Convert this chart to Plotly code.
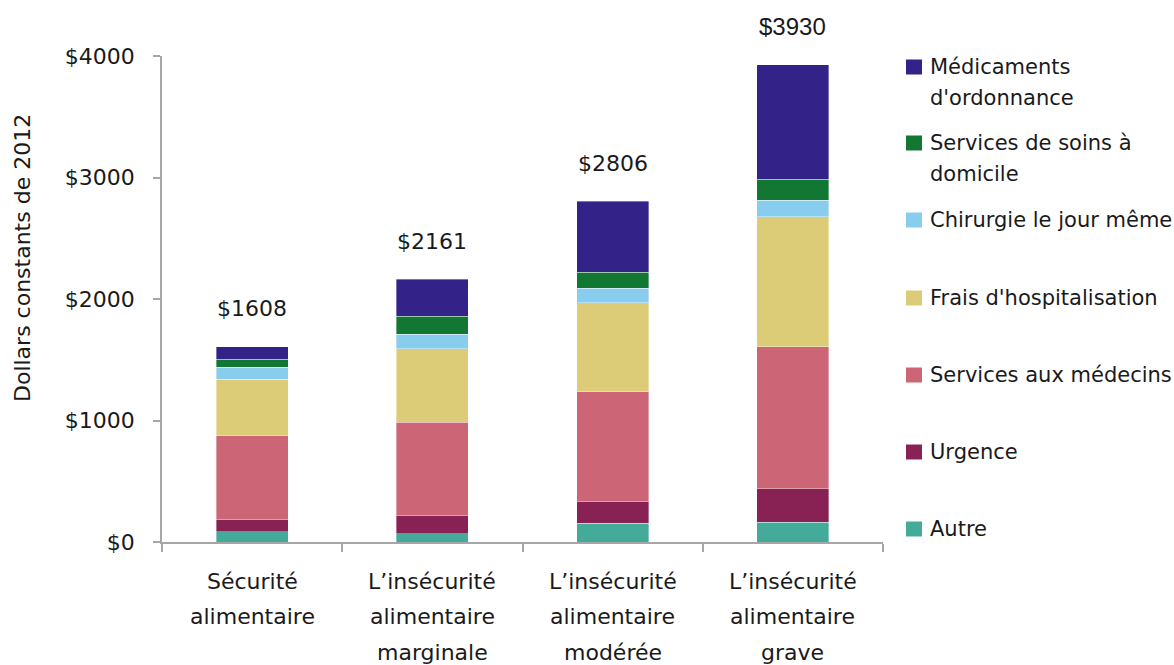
import plotly.graph_objects as go

# Food-security categories (x axis)
categories = [
    "Sécurité alimentaire",
    "L’insécurité alimentaire marginale",
    "L’insécurité alimentaire modérée",
    "L’insécurité alimentaire grave",
]

# Cost components, stacked bottom to top (constant 2012 dollars)
autre = [85, 66, 154, 162]
urgence = [104, 151, 178, 277]
medecins = [686, 769, 905, 1169]
hospitalisation = [464, 606, 733, 1067]
chirurgie = [101, 119, 119, 137]
soins_domicile = [66, 148, 132, 175]
medicaments = [102, 302, 585, 943]

series_names = [
    "Autre",
    "Urgence",
    "Services aux médecins",
    "Frais d'hospitalisation",
    "Chirurgie le jour même",
    "Services de soins à domicile",
    "Médicaments d'ordonnance",
]
series_values = [autre, urgence, medecins, hospitalisation, chirurgie,
                 soins_domicile, medicaments]
series_colors = ["#44AA99", "#882255", "#CC6677", "#DDCC77", "#88CCEE",
                 "#117733", "#332288"]

# Legend wording, one list of lines per series (same order as above)
legend_lines = [
    ["Autre"],
    ["Urgence"],
    ["Services aux médecins"],
    ["Frais d'hospitalisation"],
    ["Chirurgie le jour même"],
    ["Services de soins à", "domicile"],
    ["Médicaments", "d'ordonnance"],
]

y_tickvals = [0, 1000, 2000, 3000, 4000]
y_ticktext = ["$0", "$1000", "$2000", "$3000", "$4000"]

FONT = "DejaVu Sans"
TEXT = "#1a1a1a"
AXIS = "#a6a6a6"

W, H = 1174, 665
ML, MR, MT, MB = 162, 291, 56, 123
PW, PH = W - ML - MR, H - MT - MB

fig = go.Figure()
for name, vals, col in zip(series_names, series_values, series_colors):
    fig.add_trace(go.Bar(
        x=categories, y=vals, name=name,
        marker=dict(color=col, line=dict(color="rgba(255,255,255,0.45)", width=0.8)),
        showlegend=False, hoverinfo="name+y",
    ))

totals = [sum(v[i] for v in series_values) for i in range(len(categories))]

annotations = []
# Totals above bars (the last one is set in a different face)
for i, (cat, tot) in enumerate(zip(categories, totals)):
    last = i == len(categories) - 1
    annotations.append(dict(
        x=cat, y=tot, xref="x", yref="y", text=f"${tot}", showarrow=False,
        yanchor="middle", yshift=38,
        font=dict(size=24 if last else 22, color=TEXT,
                  family="Liberation Sans" if last else FONT),
    ))

# Category labels, one word per line
for cat in categories:
    for j, word in enumerate(cat.split(" ")):
        annotations.append(dict(
            x=cat, y=0, xref="x", yref="paper", text=word, showarrow=False,
            yanchor="middle", yshift=-39 - 35.5 * j,
            font=dict(size=22, color=TEXT, family=FONT),
        ))

# Y axis title
annotations.append(dict(
    x=0, y=(PH - (258 - MT)) / PH, xref="paper", yref="paper",
    text="Dollars constants de 2012", showarrow=False, textangle=-90,
    xanchor="center", yanchor="middle", xshift=-140,
    font=dict(size=22, color=TEXT, family=FONT),
))

# Legend (top entry first), drawn as swatches and labels
shapes = []
legend_top_px = [67, 143, 220, 298, 375, 452, 529]
order = list(range(len(series_names)))[::-1]
for k, idx in enumerate(order):
    cy = legend_top_px[k]
    y_paper = (H - MB - cy) / PH
    x0 = (906 - ML) / PW
    x1 = (922 - ML) / PW
    half = 7.5 / PH
    shapes.append(dict(
        type="rect", xref="paper", yref="paper",
        x0=x0, x1=x1, y0=y_paper - half, y1=y_paper + half,
        fillcolor=series_colors[idx], line=dict(width=0),
    ))
    for j, line in enumerate(legend_lines[idx]):
        annotations.append(dict(
            x=(928 - ML) / PW, y=y_paper, xref="paper", yref="paper",
            text=line, showarrow=False, xanchor="left", yanchor="middle",
            yshift=-31 * j, font=dict(size=21, color=TEXT, family=FONT),
        ))

fig.update_layout(
    width=W, height=H,
    margin=dict(l=ML, r=MR, t=MT, b=MB, pad=0),
    barmode="stack", bargap=0.6,
    plot_bgcolor="white", paper_bgcolor="white",
    font=dict(family=FONT, size=21, color=TEXT),
    annotations=annotations, shapes=shapes,
    showlegend=False,
)
fig.update_xaxes(
    type="category", showticklabels=False, showgrid=False,
    showline=True, linecolor=AXIS, linewidth=1.5,
    ticks="outside", ticklen=8, tickcolor=AXIS, tickwidth=1.5,
    tickson="boundaries",
)
fig.update_yaxes(
    range=[0, 4000], tickvals=y_tickvals, ticktext=y_ticktext,
    showgrid=False, zeroline=False,
    showline=True, linecolor=AXIS, linewidth=1.5,
    ticks="outside", ticklen=7, tickcolor=AXIS, tickwidth=1.5,
    ticklabelstandoff=14,
    tickfont=dict(size=22, color=TEXT, family=FONT),
)

fig.write_html("out.html")
